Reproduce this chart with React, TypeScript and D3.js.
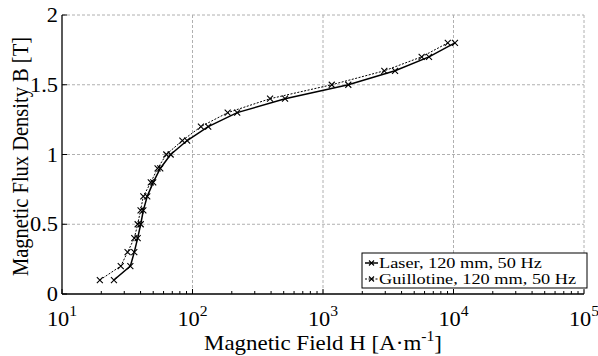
import React from "react";
import * as d3 from "d3";

const B_VALUES = [0.1, 0.2, 0.3, 0.4, 0.5, 0.6, 0.7, 0.8, 0.9, 1.0, 1.1, 1.2, 1.3, 1.4, 1.5, 1.6, 1.7, 1.8];
const H_LASER = [25, 33.4, 35.8, 38, 40.1, 42, 45, 50, 56.6, 68, 91, 132, 220, 512, 1563, 3565, 6490, 10260];
const H_GUILLOTINE = [19.5, 28.2, 31.8, 35.8, 38, 40, 42, 47.9, 54, 63, 83.6, 116, 186, 393, 1167, 2951, 5700, 9040];
const SERIES_NAMES = ["Laser, 120 mm, 50 Hz", "Guillotine, 120 mm, 50 Hz"];
const X_TICK_EXP = [1, 2, 3, 4, 5];
const Y_TICKS = [0, 0.5, 1, 1.5, 2];

const W = 598;
const H = 356;
const M = { left: 62, right: 584, top: 15, bottom: 294 };
const FONT = "'Liberation Serif', 'Times New Roman', serif";
const SX = 1.12;
const SXL = 1.22;

export default function App() {
  const x = d3.scaleLog().domain([10, 1e5]).range([M.left, M.right]);
  const y = d3.scaleLinear().domain([0, 2]).range([M.bottom, M.top]);

  const line = d3
    .line<[number, number]>()
    .x((d) => x(d[0]))
    .y((d) => y(d[1]));

  const laser: [number, number][] = H_LASER.map((h, i) => [h, B_VALUES[i]]);
  const guill: [number, number][] = H_GUILLOTINE.map((h, i) => [h, B_VALUES[i]]);

  const minorTicks: number[] = [];
  for (let e = 1; e < 5; e++) {
    for (let k = 2; k <= 9; k++) minorTicks.push(k * Math.pow(10, e));
  }

  const cross = (cx: number, cy: number, key: string, s = 3) => (
    <path
      key={key}
      d={`M${cx - s},${cy - s}L${cx + s},${cy + s}M${cx - s},${cy + s}L${cx + s},${cy - s}`}
      stroke="#000"
      strokeWidth={1.1}
      fill="none"
    />
  );

  const gridColor = "#b0b0b0";
  const lx = 362;
  const ly = 253;

  return (
    <svg width={W} height={H} style={{ position: "absolute", left: 0, top: 0, background: "#fff" }}>
      <rect x={0} y={0} width={W} height={H} fill="#fff" />
      {X_TICK_EXP.slice(1).map((e) => (
        <line
          key={"gx" + e}
          x1={x(Math.pow(10, e))}
          x2={x(Math.pow(10, e))}
          y1={M.top}
          y2={M.bottom}
          stroke={gridColor}
          strokeWidth={1}
          strokeDasharray="3,2"
        />
      ))}
      {Y_TICKS.slice(1).map((t) => (
        <line
          key={"gy" + t}
          x1={M.left}
          x2={M.right}
          y1={y(t)}
          y2={y(t)}
          stroke={gridColor}
          strokeWidth={1}
          strokeDasharray="3,2"
        />
      ))}
      <line x1={M.left} x2={M.right} y1={M.bottom} y2={M.bottom} stroke="#000" strokeWidth={1.3} />
      <line x1={M.left} x2={M.left} y1={M.top} y2={M.bottom} stroke="#000" strokeWidth={1.3} />
      {minorTicks.map((t, i) => (
        <line key={"mt" + i} x1={x(t)} x2={x(t)} y1={M.bottom} y2={M.bottom - 3} stroke="#000" strokeWidth={1} />
      ))}
      {X_TICK_EXP.map((e) => (
        <line key={"xt" + e} x1={x(Math.pow(10, e))} x2={x(Math.pow(10, e))} y1={M.bottom} y2={M.bottom - 5} stroke="#000" strokeWidth={1} />
      ))}
      {Y_TICKS.map((t) => (
        <line key={"yt" + t} x1={M.left} x2={M.left + 5} y1={y(t)} y2={y(t)} stroke="#000" strokeWidth={1} />
      ))}
      {Y_TICKS.map((t) => (
        <text
          key={"yl" + t}
          transform={`translate(${M.left - 4},${y(t) + 7}) scale(${SX},1)`}
          textAnchor="end"
          fontFamily={FONT}
          fontSize={20}
          fill="#000"
        >
          {String(t)}
        </text>
      ))}
      {X_TICK_EXP.map((e) => (
        <text
          key={"xl" + e}
          transform={`translate(${x(Math.pow(10, e))},${M.bottom + 32}) scale(${SX},1)`}
          textAnchor="middle"
          fontFamily={FONT}
          fontSize={20}
          fill="#000"
        >
          10
          <tspan fontSize={14} dy={-10}>
            {String(e)}
          </tspan>
        </text>
      ))}
      <text
        transform={`translate(${(M.left + M.right) / 2},350) scale(${SX},1)`}
        textAnchor="middle"
        fontFamily={FONT}
        fontSize={20.5}
        fill="#000"
      >
        Magnetic Field H [A·m
        <tspan fontSize={14} dy={-9}>
          -1
        </tspan>
        <tspan dy={9}>]</tspan>
      </text>
      <text
        transform={`translate(28, ${(M.top + M.bottom) / 2 + 2}) rotate(-90) scale(1,${SX})`}
        textAnchor="middle"
        fontFamily={FONT}
        fontSize={20.5}
        fill="#000"
      >
        Magnetic Flux Density B [T]
      </text>
      <path d={line(guill) || ""} fill="none" stroke="#000" strokeWidth={1} strokeDasharray="2,1.5" />
      <path d={line(laser) || ""} fill="none" stroke="#000" strokeWidth={1.5} />
      {guill.map((d, i) => cross(x(d[0]), y(d[1]), "g" + i))}
      {laser.map((d, i) => cross(x(d[0]), y(d[1]), "l" + i))}
      <rect x={lx} y={ly} width={225} height={35} fill="#fff" stroke="#000" strokeWidth={1} />
      <line x1={lx + 3} x2={lx + 16} y1={ly + 10} y2={ly + 10} stroke="#000" strokeWidth={1.5} />
      {cross(lx + 9.5, ly + 10, "lg1", 2.5)}
      <text transform={`translate(${lx + 17},${ly + 15}) scale(${SXL},1)`} fontFamily={FONT} fontSize={15} fill="#000">
        {SERIES_NAMES[0]}
      </text>
      <line x1={lx + 3} x2={lx + 16} y1={ly + 26} y2={ly + 26} stroke="#000" strokeWidth={1} strokeDasharray="2,1.5" />
      {cross(lx + 9.5, ly + 26, "lg2", 2.5)}
      <text transform={`translate(${lx + 17},${ly + 31}) scale(${SXL},1)`} fontFamily={FONT} fontSize={15} fill="#000">
        {SERIES_NAMES[1]}
      </text>
    </svg>
  );
}
